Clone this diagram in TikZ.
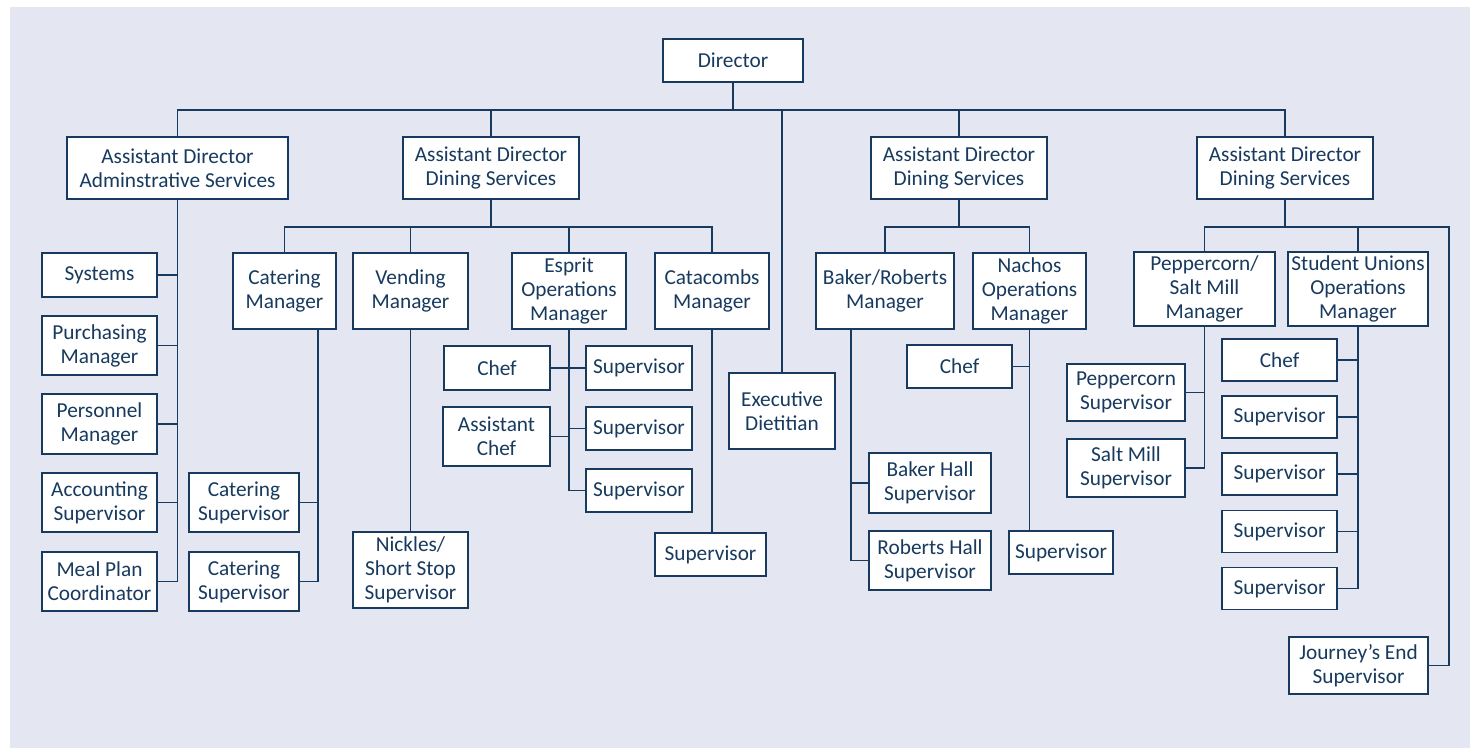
\documentclass[tikz,border=0pt]{standalone}
\usepackage{fontspec}
\setmainfont{Carlito}
\definecolor{navy}{HTML}{173A5E}
\definecolor{panel}{HTML}{E4E7F1}
\begin{document}
\begin{tikzpicture}[x=1pt,y=-1pt,
  box/.style={draw=navy,line width=1.6pt,fill=white,text=navy,align=center,inner sep=0pt,
    font=\fontsize{21.3}{24}\selectfont},
  conn/.style={draw=navy,line width=1.6pt}]
\useasboundingbox (0,0) rectangle (1470,748);
\fill[white] (0,0) rectangle (1470,748);
\fill[panel] (10,7) rectangle (1470,748);
\coordinate (bus) at (0,110);
\coordinate (bus2) at (0,227);
% nodes
\node[box,minimum width=140pt,minimum height=43pt] (dir) at (733,60.5) {Director};
\node[box,minimum width=221pt,minimum height=62pt] (ad1) at (177.5,168) {Assistant Director\\Adminstrative Services};
\node[box,minimum width=176pt,minimum height=62pt] (ad2) at (491,168) {Assistant Director\\Dining Services};
\node[box,minimum width=176pt,minimum height=62pt] (ad3) at (959,168) {Assistant Director\\Dining Services};
\node[box,minimum width=176pt,minimum height=62pt] (ad4) at (1285,168) {Assistant Director\\Dining Services};
% admin
\node[box,minimum width=115pt,minimum height=44pt] (sys) at (99.5,275) {Systems};
\node[box,minimum width=115pt,minimum height=59pt] (pur) at (99.5,345.5) {Purchasing\\Manager};
\node[box,minimum width=115pt,minimum height=60pt] (per) at (99.5,424) {Personnel\\Manager};
\node[box,minimum width=115pt,minimum height=59pt] (acc) at (99.5,502.5) {Accounting\\Supervisor};
\node[box,minimum width=115pt,minimum height=59pt] (meal) at (99.5,581.5) {Meal Plan\\Coordinator};
% dining 1
\node[box,minimum width=103pt,minimum height=76pt] (cm) at (284.5,291) {Catering\\Manager};
\node[box,minimum width=115pt,minimum height=76pt] (vm) at (410.5,291) {Vending\\Manager};
\node[box,minimum width=114pt,minimum height=76pt] (esp) at (569,291) {Esprit\\Operations\\Manager};
\node[box,minimum width=114pt,minimum height=76pt] (cat) at (712,291) {Catacombs\\Manager};
\node[box,minimum width=110pt,minimum height=59pt] (cs1) at (244,502.5) {Catering\\Supervisor};
\node[box,minimum width=110pt,minimum height=59pt] (cs2) at (244,581.5) {Catering\\Supervisor};
\node[box,minimum width=115pt,minimum height=76pt] (nick) at (410.5,570) {Nickles/\\Short Stop\\Supervisor};
\node[box,minimum width=106pt,minimum height=44pt] (echef) at (497,368) {Chef};
\node[box,minimum width=106pt,minimum height=44pt] (es1) at (639,368) {Supervisor};
\node[box,minimum width=107pt,minimum height=59pt] (eac) at (496.5,436.5) {Assistant\\Chef};
\node[box,minimum width=106pt,minimum height=43pt] (es2) at (639,428.5) {Supervisor};
\node[box,minimum width=106pt,minimum height=43pt] (es3) at (639,490.5) {Supervisor};
\node[box,minimum width=111pt,minimum height=43pt] (cats) at (710.5,554.5) {Supervisor};
\node[box,minimum width=106pt,minimum height=76pt] (exd) at (782,411) {Executive\\Dietitian};
% dining 2
\node[box,minimum width=138pt,minimum height=76pt] (br) at (885,291) {Baker/Roberts\\Manager};
\node[box,minimum width=113pt,minimum height=76pt] (nach) at (1029.5,291) {Nachos\\Operations\\Manager};
\node[box,minimum width=105pt,minimum height=43pt] (nchef) at (959.5,366.5) {Chef};
\node[box,minimum width=104pt,minimum height=43pt] (nsup) at (1061,552.5) {Supervisor};
\node[box,minimum width=122pt,minimum height=60pt] (bh) at (930,483) {Baker Hall\\Supervisor};
\node[box,minimum width=122pt,minimum height=59pt] (rh) at (930,560.5) {Roberts Hall\\Supervisor};
% dining 3
\node[box,minimum width=141pt,minimum height=74pt] (psm) at (1204.5,289) {Peppercorn/\\Salt Mill\\Manager};
\node[box,minimum width=140pt,minimum height=74pt] (su) at (1358,289) {Student Unions\\Operations\\Manager};
\node[box,minimum width=118pt,minimum height=57pt] (ps) at (1126,392.5) {Peppercorn\\Supervisor};
\node[box,minimum width=118pt,minimum height=58pt] (sms) at (1126,468) {Salt Mill\\Supervisor};
\node[box,minimum width=115pt,minimum height=42pt] (suchef) at (1279.5,360) {Chef};
\node[box,minimum width=115pt,minimum height=42pt] (su1) at (1279.5,417) {Supervisor};
\node[box,minimum width=115pt,minimum height=42pt] (su2) at (1279.5,474) {Supervisor};
\node[box,minimum width=115pt,minimum height=42pt] (su3) at (1279.5,531.5) {Supervisor};
\node[box,minimum width=115pt,minimum height=42pt] (su4) at (1279.5,588.5) {Supervisor};
\node[box,minimum width=139pt,minimum height=57pt] (je) at (1358.5,665.5) {Journey’s End\\Supervisor};
\coordinate (cmx) at (318,0);
\coordinate (brx) at (851,0);
\coordinate (jx) at (1449,0);
% top connectors
\draw[conn] (dir.south) -- (dir.south |- bus);
\draw[conn] (ad1.north) -- (ad1.north |- bus) -- (ad4.north |- bus) -- (ad4.north);
\draw[conn] (ad2.north) -- (ad2.north |- bus);
\draw[conn] (ad3.north) -- (ad3.north |- bus);
\draw[conn] (exd.north) -- (exd.north |- bus);
% admin
\draw[conn] (ad1.south) -- (ad1.south |- meal.east) -- (meal.east);
\draw[conn] (sys.east) -- (sys.east -| ad1.south);
\draw[conn] (pur.east) -- (pur.east -| ad1.south);
\draw[conn] (per.east) -- (per.east -| ad1.south);
\draw[conn] (acc.east) -- (acc.east -| ad1.south);
% dining 1
\draw[conn] (ad2.south) -- (ad2.south |- bus2);
\draw[conn] (cm.north) -- (cm.north |- bus2) -- (cat.north |- bus2) -- (cat.north);
\draw[conn] (vm.north) -- (vm.north |- bus2);
\draw[conn] (esp.north) -- (esp.north |- bus2);
\draw[conn] (cmx |- cm.south) -- (cmx |- cs2.east) -- (cs2.east);
\draw[conn] (cs1.east) -- (cs1.east -| cmx);
\draw[conn] (vm.south) -- (nick.north);
\draw[conn] (esp.south) -- (esp.south |- es3.west) -- (es3.west);
\draw[conn] (echef.east) -- (es1.west);
\draw[conn] (eac.east) -- (eac.east -| esp.south);
\draw[conn] (es2.west) -- (es2.west -| esp.south);
\draw[conn] (cat.south) -- (cat.south |- cats.north);
% dining 2
\draw[conn] (ad3.south) -- (ad3.south |- bus2);
\draw[conn] (br.north) -- (br.north |- bus2) -- (nach.north |- bus2) -- (nach.north);
\draw[conn] (brx |- br.south) -- (brx |- rh.west) -- (rh.west);
\draw[conn] (bh.west) -- (bh.west -| brx);
\draw[conn] (nach.south) -- (nach.south |- nsup.north);
\draw[conn] (nchef.east) -- (nchef.east -| nach.south);
% dining 3
\draw[conn] (ad4.south) -- (ad4.south |- bus2);
\draw[conn] (psm.north) -- (psm.north |- bus2) -- (jx |- bus2) -- (jx |- je.east) -- (je.east);
\draw[conn] (su.north) -- (su.north |- bus2);
\draw[conn] (psm.south) -- (psm.south |- sms.east) -- (sms.east);
\draw[conn] (ps.east) -- (ps.east -| psm.south);
\draw[conn] (su.south) -- (su.south |- su4.east) -- (su4.east);
\draw[conn] (suchef.east) -- (suchef.east -| su.south);
\draw[conn] (su1.east) -- (su1.east -| su.south);
\draw[conn] (su2.east) -- (su2.east -| su.south);
\draw[conn] (su3.east) -- (su3.east -| su.south);
\end{tikzpicture}
\end{document}
